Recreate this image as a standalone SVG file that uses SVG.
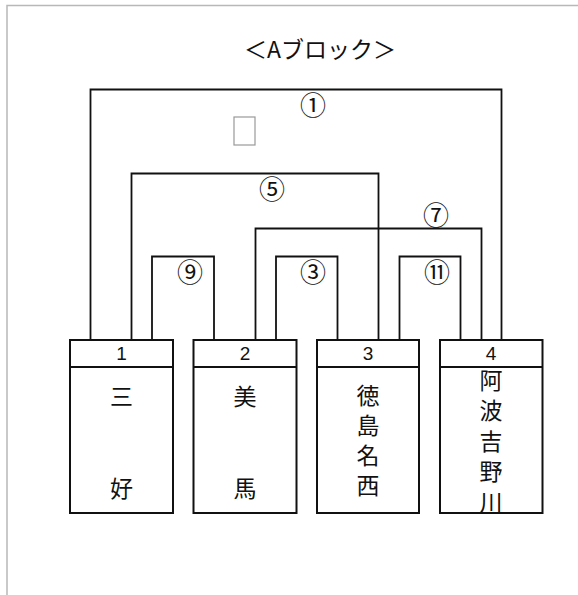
<svg xmlns="http://www.w3.org/2000/svg" width="578" height="595" viewBox="0 0 578 595">
<style>
.bg{fill:#fff}
.page{stroke:#b8b8b8;stroke-width:1.5;fill:none}
.ln{stroke:#111;stroke-width:1.8;fill:none}
.box{stroke:#111;stroke-width:2;fill:#fff}
.num{font-family:"Liberation Sans",Arial,sans-serif;font-size:19px;fill:#111;text-anchor:middle;dominant-baseline:central}
.jp{font-family:"Noto Sans CJK JP","Noto Sans CJK SC",sans-serif;font-size:23px;fill:#111;text-anchor:middle;dominant-baseline:central}
.jpv{font-family:"Noto Sans CJK JP","Noto Sans CJK SC",sans-serif;font-size:23px;fill:#111;writing-mode:vertical-rl;text-orientation:upright}
.circ{font-family:"Noto Sans CJK JP","DejaVu Sans",sans-serif;font-size:26px;fill:#111;text-anchor:middle;dominant-baseline:central}
.title{font-family:"Noto Sans CJK JP","Noto Sans CJK SC",sans-serif;font-size:23px;fill:#111;text-anchor:middle;dominant-baseline:central}
</style>
<rect class="bg" x="0" y="0" width="578" height="595"/>
<path class="page" d="M7,595 V5.5 H578"/>
<text class="title" x="320" y="48">＜Aブロック＞</text>
<rect x="234" y="117" width="21" height="28" fill="none" stroke="#999" stroke-width="1.2"/>
<g id="connectors">
<path class="ln" d="M90.5,340 V89.5 H501.5 V340"/>
<path class="ln" d="M131.5,340 V173.5 H378.5 V340"/>
<path class="ln" d="M255.5,340 V228.5 H481.5 V340"/>
<path class="ln" d="M152,340 V256.5 H214 V340"/>
<path class="ln" d="M276,340 V256.5 H337.5 V340"/>
<path class="ln" d="M399.5,340 V256.5 H460.5 V340"/>
<text class="circ" x="313" y="103">①</text>
<text class="circ" x="272" y="187">⑤</text>
<text class="circ" x="436" y="213">⑦</text>
<text class="circ" x="190" y="270">⑨</text>
<text class="circ" x="313" y="270">③</text>
<text class="circ" x="437" y="270">⑪</text>
</g>
<g id="team1">
<rect class="box" x="70" y="340" width="103" height="173"/>
<line class="ln" x1="70" y1="367" x2="173" y2="367" stroke-width="2"/>
<text class="num" x="121.5" y="353">1</text>
<text class="jp" x="121.5" y="395">三</text>
<text class="jp" x="121.5" y="487">好</text>
</g>
<g id="team2">
<rect class="box" x="193.5" y="340" width="103" height="173"/>
<line class="ln" x1="193.5" y1="367" x2="296.5" y2="367" stroke-width="2"/>
<text class="num" x="245" y="353">2</text>
<text class="jp" x="245" y="395">美</text>
<text class="jp" x="245" y="487">馬</text>
</g>
<g id="team3">
<rect class="box" x="317" y="340" width="102" height="173"/>
<line class="ln" x1="317" y1="367" x2="419" y2="367" stroke-width="2"/>
<text class="num" x="368" y="353">3</text>
<text class="jpv" x="368" y="383.5" letter-spacing="7">徳島名西</text>
</g>
<g id="team4">
<rect class="box" x="440" y="340" width="102.5" height="173"/>
<line class="ln" x1="440" y1="367" x2="542.5" y2="367" stroke-width="2"/>
<text class="num" x="491" y="353">4</text>
<text class="jpv" x="491" y="368.5" letter-spacing="7.5">阿波吉野川</text>
</g>
</svg>
